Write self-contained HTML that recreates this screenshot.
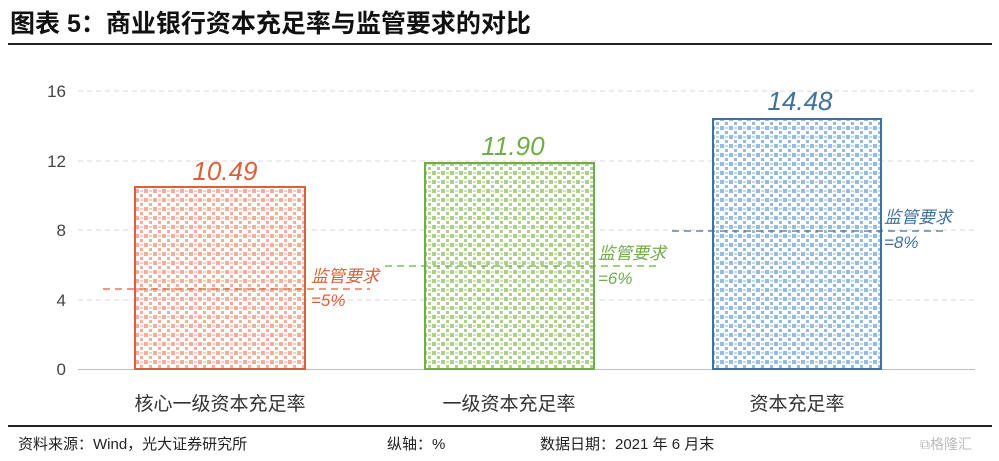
<!DOCTYPE html><html><head><meta charset="utf-8"><style>body{margin:0;background:#fff}svg{display:block;font-family:"Liberation Sans","Noto Sans CJK SC",sans-serif}</style></head><body>
<svg width="999" height="461" xmlns="http://www.w3.org/2000/svg">
<defs>
<pattern id="po" width="9" height="9" patternUnits="userSpaceOnUse"><rect width="9" height="9" fill="#fff"/><rect x="0" y="0" width="4" height="4" fill="#f2ae98"/><rect x="5" y="5" width="3" height="3" fill="#f2ae98"/><rect x="5" y="1" width="3" height="2" fill="#f7cfc2"/></pattern>
<pattern id="pg" width="9" height="9" patternUnits="userSpaceOnUse"><rect width="9" height="9" fill="#fff"/><rect x="0" y="0" width="4" height="4" fill="#abd08a"/><rect x="5" y="5" width="3" height="3" fill="#abd08a"/><rect x="5" y="1" width="3" height="2" fill="#cfe3bb"/></pattern>
<pattern id="pb" width="9" height="9" patternUnits="userSpaceOnUse"><rect width="9" height="9" fill="#fff"/><rect x="0" y="0" width="4" height="4" fill="#95bce0"/><rect x="5" y="5" width="3" height="3" fill="#95bce0"/><rect x="5" y="1" width="3" height="2" fill="#c3d9ee"/></pattern>
</defs>
<text x="10" y="32" font-size="25" font-weight="bold" fill="#111">图表 5：商业银行资本充足率与监管要求的对比</text>
<line x1="8" y1="44" x2="992" y2="44" stroke="#222" stroke-width="2"/>
<g stroke="#d8d8d8" stroke-dasharray="5,4" stroke-width="1">
<line x1="78" y1="91" x2="975" y2="91"/><line x1="78" y1="161" x2="975" y2="161"/><line x1="78" y1="230" x2="975" y2="230"/><line x1="78" y1="300" x2="975" y2="300"/></g>
<line x1="78" y1="369.5" x2="975" y2="369.5" stroke="#bfbfbf"/>
<g font-size="17" fill="#444" text-anchor="end"><text x="66" y="97">16</text><text x="66" y="167">12</text><text x="66" y="236">8</text><text x="66" y="306">4</text><text x="66" y="375">0</text></g>
<rect x="135" y="187" width="170" height="182" fill="url(#po)" stroke="#d9603b" stroke-width="2"/>
<rect x="425" y="163" width="169" height="206" fill="url(#pg)" stroke="#70ad47" stroke-width="2"/>
<rect x="713" y="119" width="168" height="250" fill="url(#pb)" stroke="#41719c" stroke-width="2"/>
<g font-size="26" font-style="italic" text-anchor="middle"><text x="225" y="180" fill="#d9603b">10.49</text><text x="513" y="155" fill="#70ad47">11.90</text><text x="800" y="110" fill="#41719c">14.48</text></g>
<g stroke-dasharray="7,5" stroke-width="1.2"><line x1="103" y1="289" x2="370" y2="289" stroke="#d9603b"/><line x1="385" y1="266" x2="656" y2="266" stroke="#70ad47"/><line x1="672" y1="231" x2="945" y2="231" stroke="#41719c"/></g>
<g font-size="17" font-style="italic"><text x="311" y="282" fill="#d9603b">监管要求</text><text x="311" y="306" fill="#d9603b">=5%</text>
<text x="598" y="259" fill="#70ad47">监管要求</text><text x="598" y="284" fill="#70ad47">=6%</text>
<text x="884" y="223" fill="#41719c">监管要求</text><text x="884" y="248" fill="#41719c">=8%</text></g>
<g font-size="19" fill="#333" text-anchor="middle"><text x="220" y="410">核心一级资本充足率</text><text x="509" y="410">一级资本充足率</text><text x="797" y="410">资本充足率</text></g>
<line x1="8" y1="426" x2="992" y2="426" stroke="#222" stroke-width="2"/>
<g font-size="15" fill="#222"><text x="18" y="449">资料来源：Wind，光大证券研究所</text><text x="387" y="449">纵轴：%</text><text x="540" y="449">数据日期：2021 年 6 月末</text></g>
<text x="920" y="449" font-size="14" fill="#bbb">⧉格隆汇</text>
</svg></body></html>
